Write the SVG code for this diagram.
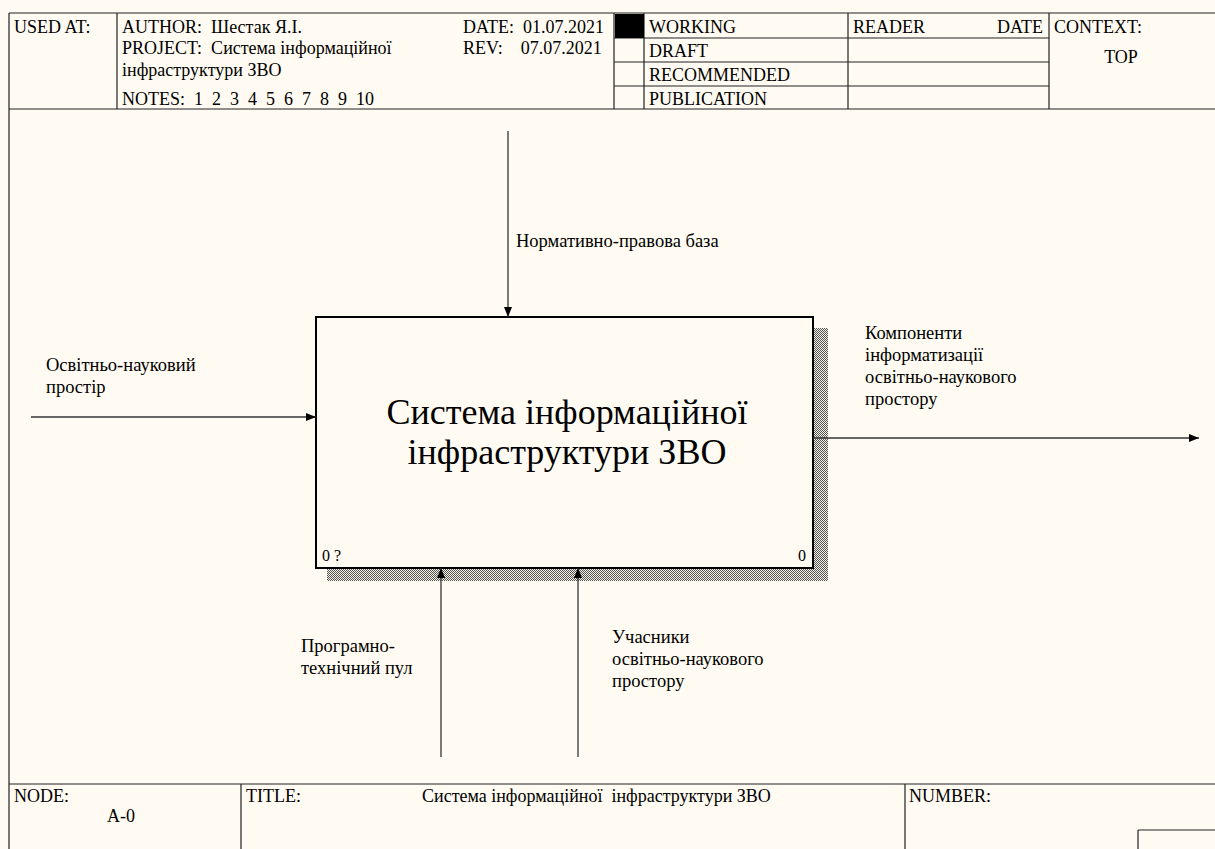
<svg xmlns="http://www.w3.org/2000/svg" width="1215" height="849" viewBox="0 0 1215 849" font-family="'Liberation Serif', 'DejaVu Serif', serif">
  <style>
    text { font-family: "Liberation Serif", "DejaVu Serif", serif; fill: #000; white-space: pre; }
    .hd { font-size: 18px; }
    .lb { font-size: 18.5px; }
    .ttl { font-size: 36px; }
    .num { font-size: 16px; }
    .frame { fill: none; stroke: #222; stroke-width: 1.2; }
    .conn { fill: none; stroke: #333; stroke-width: 1.3; }
  </style>
  <defs>
    <!-- checkered shadow fill -->
    <pattern id="hatch" width="2" height="2" patternUnits="userSpaceOnUse">
      <rect width="2" height="2" fill="#f4f0e6"/>
      <rect x="0" y="0" width="1" height="1" fill="#555"/>
      <rect x="1" y="1" width="1" height="1" fill="#555"/>
    </pattern>
    <marker id="arr" viewBox="0 0 10 8" refX="10" refY="4" markerWidth="10" markerHeight="8" markerUnits="userSpaceOnUse" orient="auto">
      <path d="M0,0 L10,4 L0,8 Z" fill="#000"/>
    </marker>
  </defs>

  <rect width="1215" height="849" fill="#fffbf2"/>

  <!-- header frame -->
  <g id="header">
    <path class="frame" d="M9,13 H1215 M9,13 V849 M9,109 H1215 M117,13 V109 M614,13 V109 M644,13 V109 M848,13 V109 M1049,13 V109 M614,38 H1049 M614,62 H1049 M614,86 H1049"/>
    <rect x="615" y="14" width="29" height="24" fill="#000"/>
    <text class="hd" x="14" y="33">USED AT:</text>
    <text class="hd" x="122" y="33">AUTHOR:  Шестак Я.І.</text>
    <text class="hd" x="122" y="54">PROJECT:  Система інформаційної</text>
    <text class="hd" x="122" y="76">інфраструктури ЗВО</text>
    <text class="hd" x="122" y="105">NOTES:  1  2  3  4  5  6  7  8  9  10</text>
    <text class="hd" x="463" y="33">DATE:  01.07.2021</text>
    <text class="hd" x="463" y="54">REV:    07.07.2021</text>
    <text class="hd" x="649" y="33">WORKING</text>
    <text class="hd" x="649" y="57">DRAFT</text>
    <text class="hd" x="649" y="81">RECOMMENDED</text>
    <text class="hd" x="649" y="105">PUBLICATION</text>
    <text class="hd" x="853" y="33">READER</text>
    <text class="hd" x="1043" y="33" text-anchor="end">DATE</text>
    <text class="hd" x="1054" y="33">CONTEXT:</text>
    <text class="hd" x="1121" y="63" text-anchor="middle">TOP</text>
  </g>

  <!-- footer frame -->
  <g id="footer">
    <path class="frame" d="M9,784 H1215 M241,784 V849 M905,784 V849 M1138,830 H1215 M1138,830 V849"/>
    <text class="hd" x="14" y="802">NODE:</text>
    <text class="hd" x="107" y="822">A-0</text>
    <text class="hd" x="246" y="802">TITLE:</text>
    <text class="hd" x="422" y="802">Система інформаційної  інфраструктури ЗВО</text>
    <text class="hd" x="909" y="802">NUMBER:</text>
  </g>

  <!-- activity box A0 -->
  <g id="node-a0">
    <rect x="327" y="328" width="501" height="253" fill="url(#hatch)"/>
    <rect x="316" y="317" width="497" height="251" fill="#fffbf2" stroke="#000" stroke-width="2"/>
    <text class="ttl" x="567" y="424" text-anchor="middle">Система інформаційної</text>
    <text class="ttl" x="567" y="464" text-anchor="middle">інфраструктури ЗВО</text>
    <text class="num" x="322" y="561">0 ?</text>
    <text class="num" x="798" y="561">0</text>
  </g>

  <!-- connectors -->
  <g id="connectors">
    <line class="conn" x1="508" y1="131" x2="508" y2="317" marker-end="url(#arr)"/>
    <line class="conn" x1="31" y1="417" x2="316" y2="417" marker-end="url(#arr)"/>
    <line class="conn" x1="813" y1="438" x2="1199" y2="438" marker-end="url(#arr)"/>
    <line class="conn" x1="441" y1="757" x2="441" y2="568" marker-end="url(#arr)"/>
    <line class="conn" x1="578" y1="757" x2="578" y2="568" marker-end="url(#arr)"/>
  </g>

  <!-- connector labels -->
  <g id="labels">
    <text class="lb" x="516" y="247">Нормативно-правова база</text>
    <text class="lb" x="46" y="371">Освітньо-науковий</text>
    <text class="lb" x="46" y="393">простір</text>
    <text class="lb" x="865" y="339">Компоненти</text>
    <text class="lb" x="865" y="361">інформатизації</text>
    <text class="lb" x="865" y="383">освітньо-наукового</text>
    <text class="lb" x="865" y="405">простору</text>
    <text class="lb" x="301" y="652">Програмно-</text>
    <text class="lb" x="301" y="674">технічний пул</text>
    <text class="lb" x="612" y="643">Учасники</text>
    <text class="lb" x="612" y="665">освітньо-наукового</text>
    <text class="lb" x="612" y="687">простору</text>
  </g>
</svg>
